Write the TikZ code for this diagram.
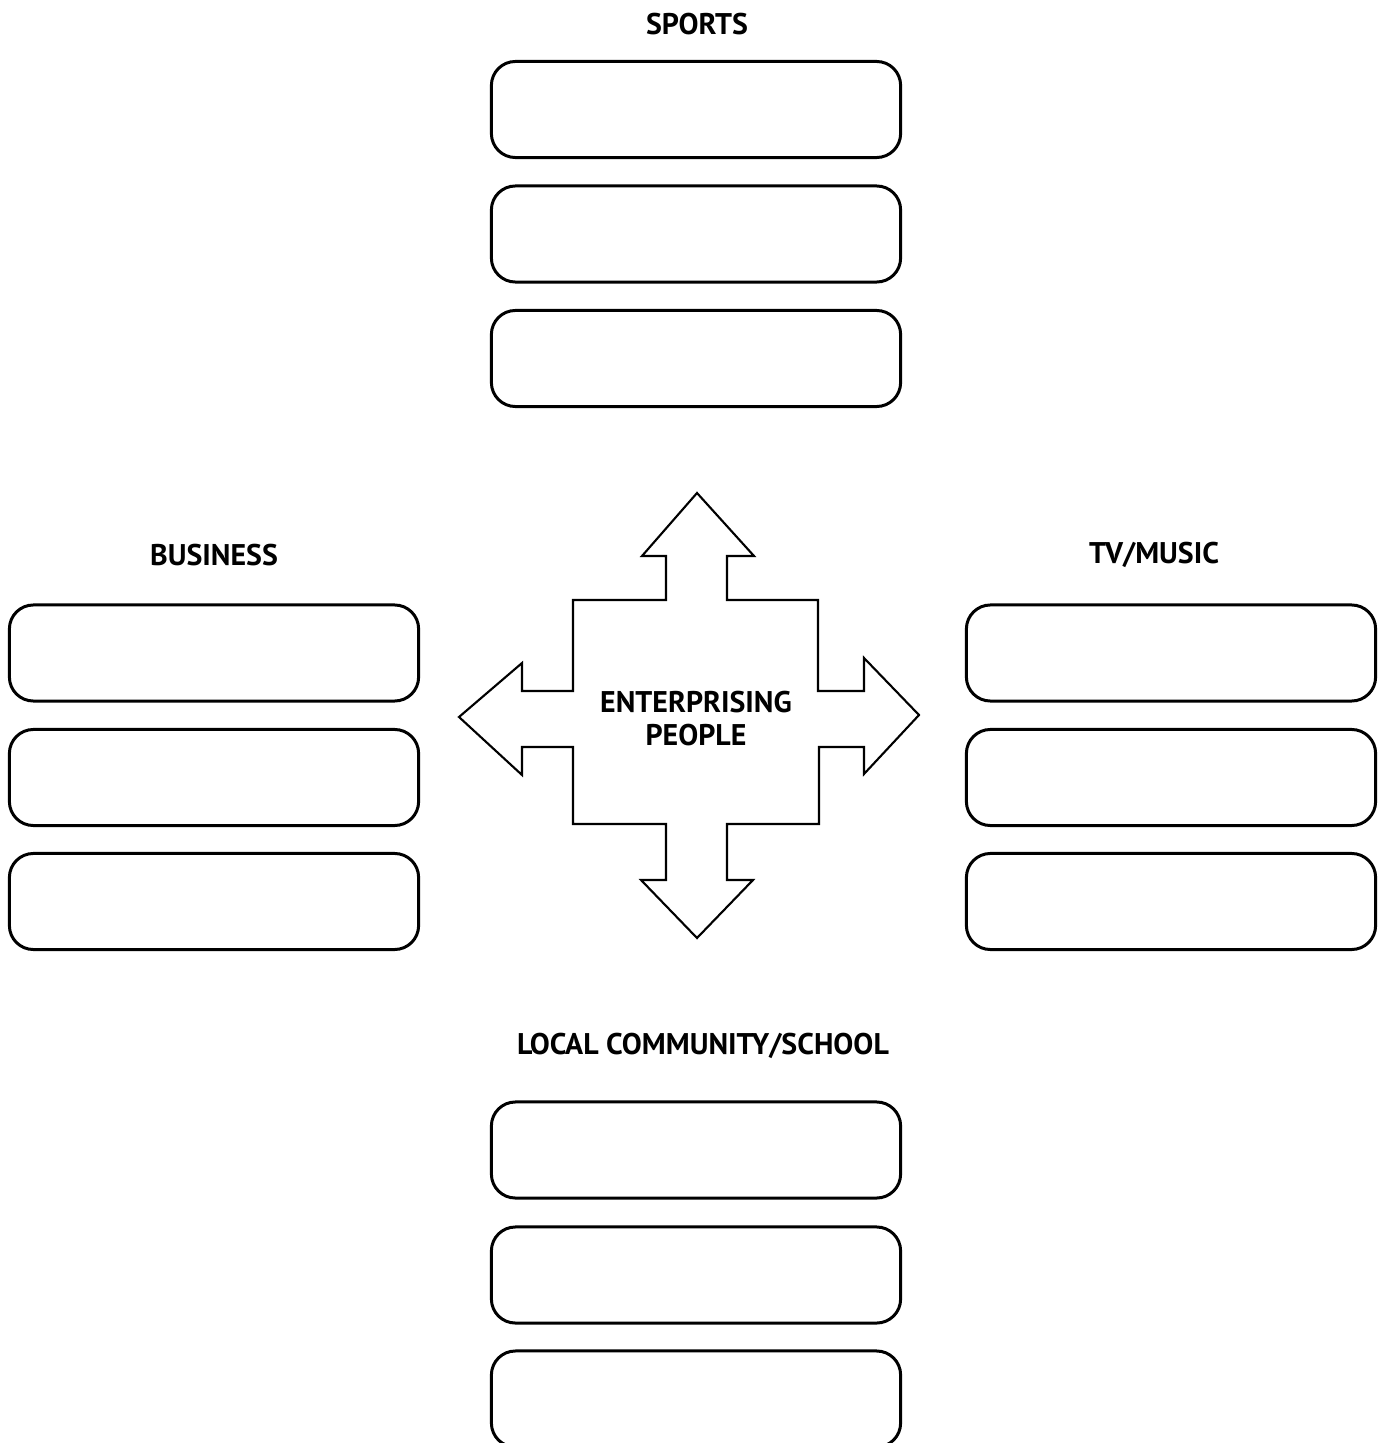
\documentclass[tikz,border=0pt]{standalone}
\usepackage{fontspec}
\setmainfont{PT Sans}

\tikzset{
  slot/.style={draw, line width=0.85pt, rounded corners=0.24cm,
    minimum width=4.09cm, minimum height=0.96cm, inner sep=0pt},
  heading/.style={font=\bfseries\fontsize{8.5}{9.4}\selectfont, inner sep=0pt},
}

\begin{document}
\begin{tikzpicture}[x=0.01cm,y=-0.01cm]

\useasboundingbox (0,0) rectangle (1386,1443);
%        \draw[style=help lines, step=100] (0,0) grid (1386,1443);

% headings
\node[heading] (sports) at (697,24) {SPORTS};
\node[heading] (business) at (214,555) {BUSINESS};
\node[heading] (tvmusic) at (1154,555) {TV/MUSIC};
\node[heading] (local) at (703,1046) {LOCAL COMMUNITY/SCHOOL};

% empty boxes
\foreach \y [count=\i] in {109.5,234,358.5}
  \node[slot] (sp\i) at (696,\y) {};
\foreach \y [count=\i] in {653,777.5,901.5} {
  \node[slot] (bu\i) at (214,\y) {};
  \node[slot] (tv\i) at (1171,\y) {};
}
\foreach \y [count=\i] in {1150,1275,1399}
  \node[slot] (lc\i) at (696,\y) {};

% cross of arrows
\draw[line width=0.6pt, line join=miter]
  (697,493) -- (754,556) -- (727,556) -- (727,600) -- (818,600) -- (818,691)
  -- (864,691) -- (864,658) -- (919,715) -- (864,774) -- (864,747) -- (819,747)
  -- (819,824) -- (727,824) -- (727,880) -- (753,880) -- (697,938) -- (641,880)
  -- (666,880) -- (666,824) -- (573,824) -- (573,747) -- (522,747) -- (522,775)
  -- (459,717) -- (522,663) -- (522,691) -- (573,691) -- (573,600) -- (666,600)
  -- (666,556) -- (642,556) -- cycle;

\node[heading, align=center] (people) at (696,719) {ENTERPRISING\\PEOPLE};

\end{tikzpicture}
\end{document}
